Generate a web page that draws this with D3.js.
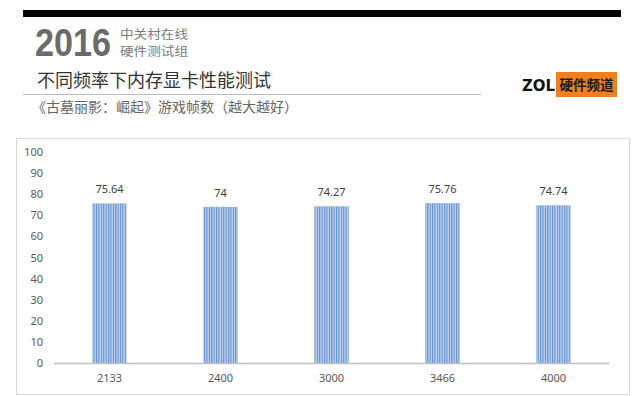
<!DOCTYPE html>
<html>
<head>
<meta charset="utf-8">
<script src="https://cdn.jsdelivr.net/npm/d3@7"></script>
<style>
  body { margin: 0; background: #fff; }
  text { font-family: "Noto Sans CJK SC", "Noto Sans", sans-serif; }
</style>
</head>
<body>
<div id="viz"></div>
<script>
var w = 640;
var h = 396;

// data
var categories = ["2133", "2400", "3000", "3466", "4000"];
var values = [75.64, 74, 74.27, 75.76, 74.74];
var yTicks = [0, 10, 20, 30, 40, 50, 60, 70, 80, 90, 100];

var svg = d3.select("#viz")
            .append("svg")
            .attr("width", w)
            .attr("height", h);

// stripe pattern for bars
var defs = svg.append("defs");
var pat = defs.append("pattern")
    .attr("id", "stripes")
    .attr("patternUnits", "userSpaceOnUse")
    .attr("width", 2.4)
    .attr("height", 10);
pat.append("rect").attr("width", 2.4).attr("height", 10).attr("fill", "#bfd2ee");
pat.append("rect").attr("width", 1.1).attr("height", 10).attr("fill", "#6690cc");

// header
svg.append("rect")
    .attr("x", 23).attr("y", 10)
    .attr("width", 598).attr("height", 7)
    .attr("fill", "#000");

svg.append("text")
    .attr("x", 35).attr("y", 56)
    .style("font-family", "'Liberation Sans', Arial, sans-serif")
    .attr("font-weight", "bold")
    .attr("font-size", 38)
    .attr("textLength", 76)
    .attr("lengthAdjust", "spacingAndGlyphs")
    .attr("fill", "#6b6b6b")
    .text("2016");

svg.append("text")
    .attr("x", 120).attr("y", 38.5)
    .attr("font-size", 12)
    .attr("textLength", 68)
    .attr("lengthAdjust", "spacingAndGlyphs")
    .attr("fill", "#7a7a7a")
    .text("中关村在线");
svg.append("text")
    .attr("x", 120).attr("y", 55.5)
    .attr("font-size", 12)
    .attr("textLength", 68)
    .attr("lengthAdjust", "spacingAndGlyphs")
    .attr("fill", "#7a7a7a")
    .text("硬件测试组");

svg.append("text")
    .attr("x", 37).attr("y", 87)
    .attr("font-size", 18)
    .attr("fill", "#333")
    .text("不同频率下内存显卡性能测试");

svg.append("line")
    .attr("x1", 23).attr("x2", 481)
    .attr("y1", 94.5).attr("y2", 94.5)
    .attr("stroke", "#bbb")
    .attr("stroke-width", 1);

svg.append("text")
    .attr("x", 32).attr("y", 112)
    .attr("font-size", 14)
    .attr("fill", "#666")
    .text("《古墓丽影：崛起》游戏帧数（越大越好）");

// ZOL logo
svg.append("text")
    .attr("x", 522).attr("y", 91)
    .style("font-family", "'DejaVu Sans', sans-serif")
    .attr("font-weight", "bold")
    .attr("font-size", 15)
    .attr("textLength", 33)
    .attr("lengthAdjust", "spacingAndGlyphs")
    .attr("fill", "#111")
    .text("ZOL");
svg.append("rect")
    .attr("x", 556).attr("y", 72)
    .attr("width", 61).attr("height", 25)
    .attr("fill", "#f07f1e");
svg.append("text")
    .attr("x", 586.5).attr("y", 90)
    .attr("text-anchor", "middle")
    .attr("font-weight", "bold")
    .attr("font-size", 13.5)
    .attr("fill", "#1a1a1a")
    .text("硬件频道");

// chart frame
svg.append("rect")
    .attr("x", 16.5).attr("y", 138.5)
    .attr("width", 613).attr("height", 256)
    .attr("fill", "#fff")
    .attr("stroke", "#d9d9d9");

var x = d3.scaleBand()
    .domain(categories)
    .range([54, 609])
    .paddingInner(0.69)
    .paddingOuter(0.345);

var y = d3.scaleLinear()
    .domain([0, 100])
    .range([363, 152]);

// y axis labels
var yAxis = d3.axisLeft(y).tickValues(yTicks).tickSize(0).tickPadding(0);
var gy = svg.append("g").attr("transform", "translate(43,0)").call(yAxis);
gy.select(".domain").remove();
gy.selectAll("text")
    .attr("font-size", 11)
    .attr("fill", "#595959")
    .style("font-family", "'Noto Sans', sans-serif");

// bars
svg.selectAll("rect.bar")
    .data(values)
    .enter()
    .append("rect")
    .attr("class", "bar")
    .attr("x", function(d, i) { return x(categories[i]); })
    .attr("y", function(d) { return y(d); })
    .attr("width", x.bandwidth())
    .attr("height", function(d) { return y(0) - y(d); })
    .attr("fill", "url(#stripes)");

// baseline
svg.append("line")
    .attr("x1", 54).attr("x2", 609)
    .attr("y1", y(0) + 0.5).attr("y2", y(0) + 0.5)
    .attr("stroke", "#bfbfbf")
    .attr("stroke-width", 1.5);

// value labels
svg.selectAll("text.val")
    .data(values)
    .enter()
    .append("text")
    .attr("class", "val")
    .attr("x", function(d, i) { return x(categories[i]) + x.bandwidth() / 2; })
    .attr("y", function(d) { return y(d) - 10; })
    .attr("text-anchor", "middle")
    .attr("font-size", 11)
    .attr("fill", "#404040")
    .style("font-family", "'Noto Sans', sans-serif")
    .text(function(d) { return d; });

// x axis labels
var xAxis = d3.axisBottom(x).tickSize(0).tickPadding(0);
var gx = svg.append("g").attr("transform", "translate(0,374)").call(xAxis);
gx.select(".domain").remove();
gx.selectAll("text")
    .attr("font-size", 11)
    .attr("fill", "#595959")
    .style("font-family", "'Noto Sans', sans-serif");
</script>
</body>
</html>
